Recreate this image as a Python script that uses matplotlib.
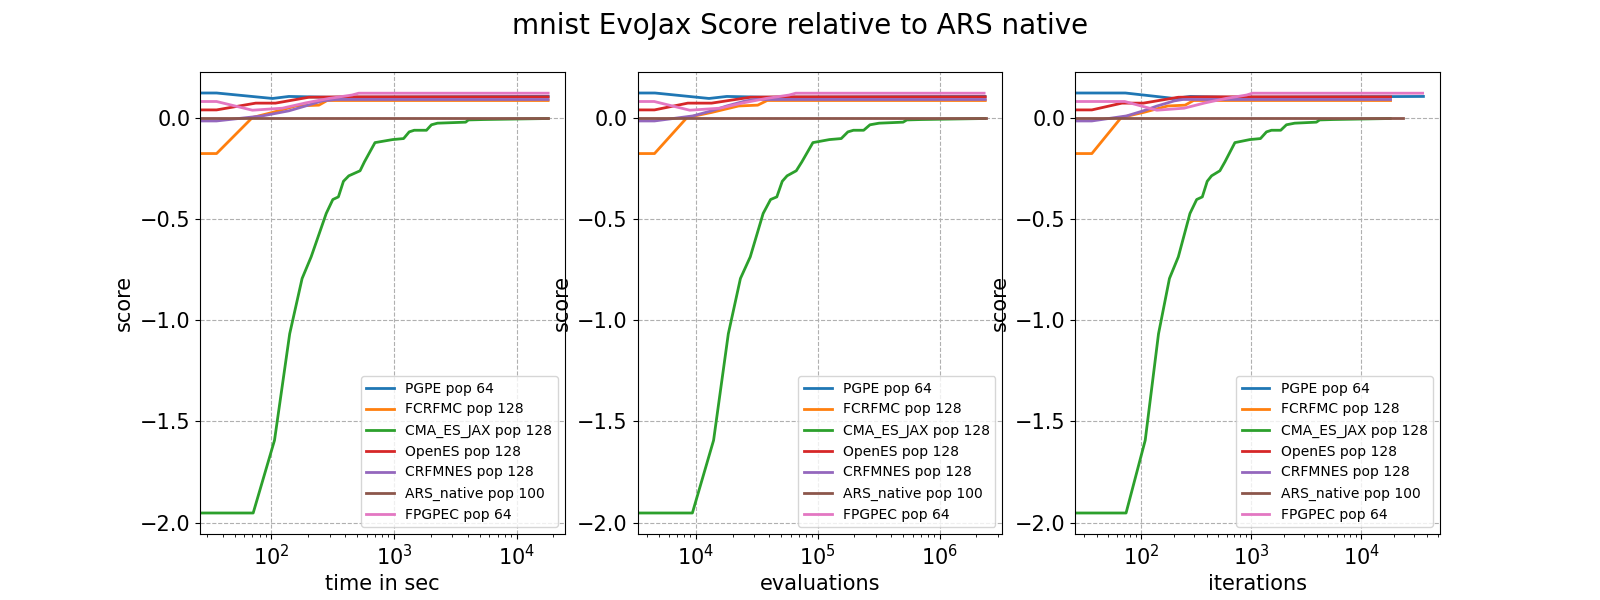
import matplotlib
matplotlib.use("Agg")
import matplotlib.pyplot as plt
import numpy as np

title = "mnist EvoJax Score relative to ARS native"
xlabels = ["time in sec", "evaluations", "iterations"]

names = ["PGPE", "FCRFMC", "CMA_ES_JAX", "OpenES", "CRFMNES", "ARS_native", "FPGPEC"]
pops = [64, 128, 128, 128, 128, 100, 64]
colors = ["tab:blue", "tab:orange", "tab:green", "tab:red", "tab:purple", "tab:brown", "tab:pink"]

# PGPE pop 64
pgpe_score = [0.121, 0.121, 0.094, 0.104, 0.100, 0.104]
pgpe_time = [0, 35.7, 102, 139, 300, 18100]
pgpe_iters = [0, 72, 200, 280, 600, 36800]

# FCRFMC pop 128
fcrfmc_score = [-0.178, -0.178, 0.0, 0.025, 0.057, 0.061, 0.084, 0.084]
fcrfmc_time = [0, 35.7, 70, 102, 158, 244, 285, 18100]
fcrfmc_iters = [0, 35.7, 66, 105, 175, 251, 300, 18500]

# CMA_ES_JAX pop 128
cma_score = [-1.953, -1.953, -1.953, -1.594, -1.068, -0.795, -0.688, -0.474, -0.405,
             -0.392, -0.315, -0.288, -0.263, -0.219, -0.124, -0.109, -0.104, -0.071,
             -0.063, -0.063, -0.036, -0.028, -0.023, -0.012, -0.010, -0.005]
cma_time = [0, 35.7, 71, 106, 141, 178, 211, 280, 317, 352, 387, 428, 529, 574, 700,
            975, 1198, 1331, 1462, 1841, 2022, 2264, 3846, 4045, 5400, 18070]
cma_iters = [0, 35.7, 73, 109, 144, 181, 218, 278, 320, 360, 399, 437, 520, 578, 712,
             973, 1216, 1379, 1531, 1858, 2093, 2489, 3917, 4197, 5538, 18370]

# OpenES pop 128
openes_score = [0.0375, 0.0375, 0.071, 0.071, 0.100, 0.102, 0.102]
openes_time = [0, 35.7, 74.5, 108, 202, 400, 18100]
openes_iters = [0, 35.7, 67, 105, 218, 400, 18500]

# CRFMNES pop 128
crfmnes_score = [-0.017, -0.017, 0.008, 0.033, 0.057, 0.082, 0.089, 0.089]
crfmnes_time = [0, 35.7, 84.5, 139, 190, 260, 334, 18100]
crfmnes_iters = [0, 35.7, 74, 105, 140, 200, 240, 18500]

# ARS_native pop 100
ars_score = [0.0, 0.0]
ars_time = [0, 18100]
ars_iters = [0, 23900]

# FPGPEC pop 64
fpgpec_score = [0.079, 0.079, 0.036, 0.046, 0.072, 0.094, 0.111, 0.120, 0.120]
fpgpec_time = [0, 35.7, 70, 123, 190, 294, 455, 516, 18100]
fpgpec_iters = [0, 71, 139, 246, 380, 588, 910, 1030, 36200]

scores = [pgpe_score, fcrfmc_score, cma_score, openes_score, crfmnes_score, ars_score, fpgpec_score]
times = [pgpe_time, fcrfmc_time, cma_time, openes_time, crfmnes_time, ars_time, fpgpec_time]
iters = [pgpe_iters, fcrfmc_iters, cma_iters, openes_iters, crfmnes_iters, ars_iters, fpgpec_iters]

fig, axes = plt.subplots(1, 3, figsize=(16, 6), dpi=100)
fig.suptitle(title, fontsize=20)

for k, ax in enumerate(axes):
    for i in range(len(names)):
        it = np.array(iters[i], dtype=float)
        if k == 0:
            x = np.array(times[i], dtype=float)
        elif k == 1:
            x = it * pops[i]
        else:
            x = it
        ax.plot(x, scores[i], color=colors[i], lw=2, label=f"{names[i]} pop {pops[i]}")
    ax.set_xscale("log")
    ax.grid(True, linestyle="--")
    ax.set_xlabel(xlabels[k], fontsize=15)
    ax.set_ylabel("score", fontsize=15)
    ax.tick_params(labelsize=15)
    ax.legend(loc="lower right", fontsize=10)

fig.savefig("out.png")
